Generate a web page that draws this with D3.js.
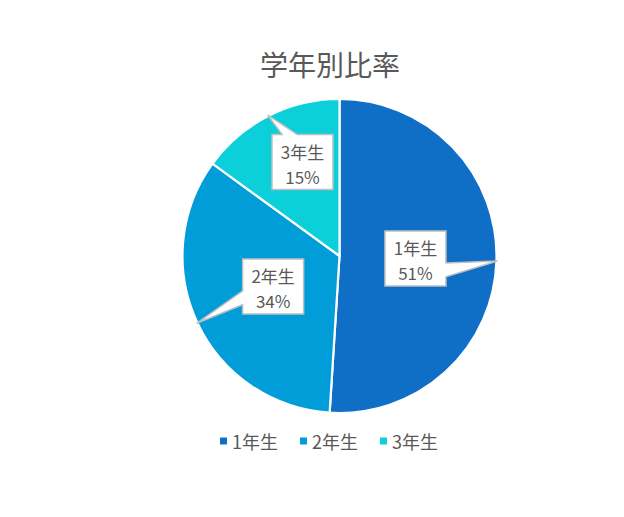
<!DOCTYPE html>
<html><head><meta charset="utf-8">
<script src="https://cdn.jsdelivr.net/npm/d3@7"></script>
<style>
html,body{margin:0;padding:0;background:#fff;}
svg{display:block;font-family:"Noto Sans CJK JP","Noto Sans",sans-serif;}
</style></head>
<body>
<svg id="chart" width="624" height="517"></svg>
<script>
// ---- data ----
const title = "学年別比率";
const categories = ["1年生", "2年生", "3年生"];
const values = [51, 34, 15];
const percentLabels = ["51%", "34%", "15%"];
const colors = ["#0F6FC6", "#009DD9", "#0BD0D9"];

// ---- layout ----
const W = 624, H = 517;
const cx = 339.5, cy = 256, R = 157;
// label box placement (angle offset in deg, distance from centre)
const labelPlace = [{da: 0, r: 76}, {da: 0.6, r: 73}, {da: 5.5, r: 101}];
const boxW = 61, boxH = 55;

const svg = d3.select("#chart");
svg.append("rect").attr("width", W).attr("height", H).attr("fill", "#fff");

svg.append("text").attr("x", 330).attr("y", 64)
  .attr("text-anchor", "middle").attr("dominant-baseline", "central")
  .attr("font-size", 28).attr("fill", "#595959").text(title);

const pie = d3.pie().sort(null).value(d => d)(values);
const arc = d3.arc().innerRadius(0).outerRadius(R);
const g = svg.append("g").attr("transform", `translate(${cx},${cy})`);

g.selectAll("path.slice").data(pie).join("path").attr("class", "slice")
  .attr("d", arc).attr("fill", (d, i) => colors[i])
  .attr("stroke", "#fff").attr("stroke-width", 2.2).attr("stroke-linejoin", "round");

// callouts
pie.forEach((d, i) => {
  const mid = (d.startAngle + d.endAngle) / 2;
  const tip = [Math.sin(mid) * (R + 1), -Math.cos(mid) * (R + 1)];
  const a = mid + labelPlace[i].da * Math.PI / 180;
  const c = [Math.sin(a) * labelPlace[i].r, -Math.cos(a) * labelPlace[i].r];
  const x0 = c[0] - boxW / 2, y0 = c[1] - boxH / 2, x1 = x0 + boxW, y1 = y0 + boxH;
  const dx = (tip[0] - c[0]) / boxW, dy = (tip[1] - c[1]) / boxH;
  let pts;
  if (Math.abs(dx) > Math.abs(dy)) {
    const f = tip[1] > c[1] ? [7 / 12, 10 / 12] : [2 / 12, 5 / 12];
    const ya = y0 + boxH * f[0], yb = y0 + boxH * f[1];
    if (dx > 0) pts = [[x0, y0], [x1, y0], [x1, ya], tip, [x1, yb], [x1, y1], [x0, y1]];
    else pts = [[x0, y0], [x1, y0], [x1, y1], [x0, y1], [x0, yb], tip, [x0, ya]];
  } else {
    const f = tip[0] > c[0] ? [7 / 12, 10 / 12] : [2 / 12, 5 / 12];
    const xa = x0 + boxW * f[0], xb = x0 + boxW * f[1];
    if (dy < 0) pts = [[x0, y0], [xa, y0], tip, [xb, y0], [x1, y0], [x1, y1], [x0, y1]];
    else pts = [[x0, y0], [x1, y0], [x1, y1], [xb, y1], tip, [xa, y1], [x0, y1]];
  }
  g.append("path").attr("d", d3.line()(pts) + "Z")
    .attr("fill", "#fff").attr("stroke", "#BFBFBF").attr("stroke-width", 1.5)
    .attr("stroke-linejoin", "miter");
  g.append("text").attr("text-anchor", "middle").attr("dominant-baseline", "central")
    .attr("font-size", 17).attr("fill", "#595959")
    .attr("x", c[0]).attr("y", c[1] - 10.5).text(categories[i]);
  g.append("text").attr("text-anchor", "middle").attr("dominant-baseline", "central")
    .attr("font-size", 17).attr("fill", "#595959")
    .attr("x", c[0]).attr("y", c[1] + 14).text(percentLabels[i]);
});

// legend
const legX = d3.scalePoint().domain(categories).range([220, 380]);
const leg = svg.append("g").selectAll("g").data(categories).join("g")
  .attr("transform", d => `translate(${legX(d)},441)`);
leg.append("rect").attr("x", 0).attr("y", -3.5).attr("width", 7).attr("height", 7)
  .attr("fill", (d, i) => colors[i]);
leg.append("text").attr("x", 12).attr("y", 0).attr("dominant-baseline", "central")
  .attr("font-size", 18).attr("fill", "#595959").text(d => d);
</script>
</body></html>
